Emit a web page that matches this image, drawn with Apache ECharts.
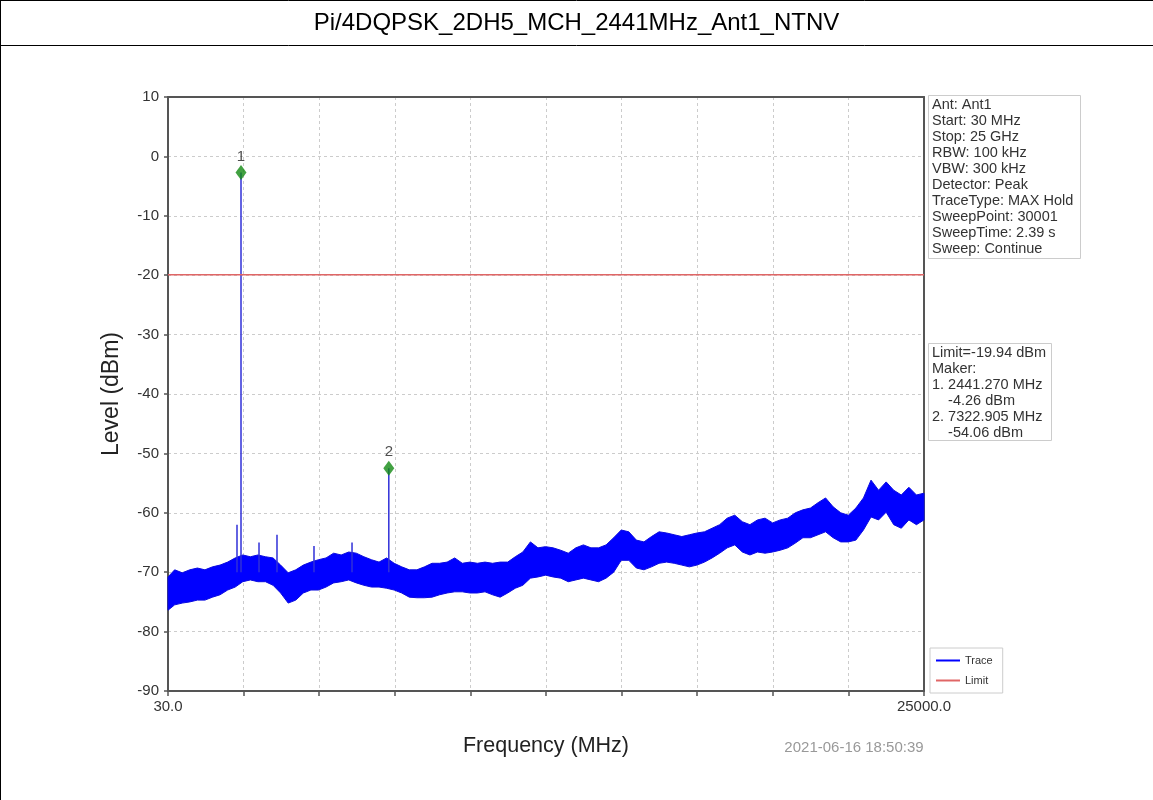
<!DOCTYPE html>
<html>
<head>
<meta charset="utf-8">
<script src="https://cdn.jsdelivr.net/npm/echarts@6/dist/echarts.min.js"></script>
<style>
html,body{margin:0;padding:0;background:#fff;}
#chart{width:1153px;height:800px;}
</style>
</head>
<body>
<div id="chart"></div>
<script>
// ---------- data ----------
const titleText = 'Pi/4DQPSK_2DH5_MCH_2441MHz_Ant1_NTNV';
const freqStart = 30;
const freqStop = 25000;
const freqMHz = [30,250,500,750,1000,1250,1500,1750,2000,2250,2500,2750,3000,3250,3500,3750,4000,4250,4500,4750,
  5000,5250,5500,5750,6000,6250,6500,6750,7000,7250,7500,7750,8000,8250,8500,8750,9000,9250,9500,9750,
  10000,10250,10500,10750,11000,11250,11500,11750,12000,12250,12500,12750,13000,13250,13500,13750,14000,14250,14500,14750,
  15000,15250,15500,15750,16000,16250,16500,16750,17000,17250,17500,17750,18000,18250,18500,18750,19000,19250,19500,19750,
  20000,20250,20500,20750,21000,21250,21500,21750,22000,22250,22500,22750,23000,23250,23500,23750,24000,24250,24500,24750,25000];
const traceUpper = [-70.8,-69.6,-70.1,-69.6,-69.3,-69.6,-69.1,-68.8,-68.3,-67.6,
  -67.1,-67.4,-67.1,-67.4,-67.6,-68.8,-70.1,-69.6,-68.8,-68.3,
  -67.9,-67.6,-66.8,-67.1,-66.6,-66.8,-67.4,-67.9,-68.3,-67.6,
  -68.5,-69.1,-69.6,-69.6,-69.1,-68.5,-68.5,-68.3,-67.6,-68.5,
  -68.3,-68.5,-68.3,-68.5,-68.3,-68.3,-67.4,-66.6,-64.9,-65.9,
  -65.7,-65.9,-66.3,-66.8,-65.9,-65.4,-65.9,-65.9,-65.4,-64.2,
  -62.9,-63.2,-64.6,-64.9,-64.0,-63.2,-63.4,-63.7,-64.0,-63.7,
  -63.4,-63.2,-62.6,-62.0,-60.9,-60.4,-61.5,-62.0,-61.2,-60.9,
  -61.7,-61.2,-60.9,-60.0,-59.5,-59.2,-58.3,-57.5,-59.0,-60.0,
  -60.4,-59.2,-57.5,-54.5,-56.2,-54.8,-56.2,-57.0,-55.7,-57.0,-56.7];
const traceLower = [-76.4,-75.5,-75.2,-75.0,-74.7,-74.7,-74.2,-73.8,-73.0,-72.5,
  -71.6,-71.3,-71.6,-71.6,-72.2,-73.5,-75.2,-74.7,-73.5,-73.0,
  -73.0,-72.5,-71.8,-71.6,-71.3,-71.8,-72.2,-72.5,-72.5,-72.7,
  -73.0,-73.5,-74.2,-74.3,-74.3,-74.2,-73.8,-73.5,-73.3,-73.3,
  -73.5,-73.5,-73.3,-73.8,-74.2,-73.5,-72.7,-72.2,-71.0,-70.8,
  -70.5,-70.8,-71.0,-71.6,-71.3,-71.0,-71.3,-71.6,-71.0,-70.0,
  -68.0,-68.0,-69.3,-69.6,-69.1,-68.5,-68.3,-68.5,-68.8,-69.1,
  -68.8,-68.3,-67.6,-66.8,-65.9,-65.4,-66.6,-67.1,-66.6,-66.8,
  -66.6,-66.3,-65.9,-65.1,-64.2,-64.2,-63.7,-63.2,-64.2,-64.9,
  -64.9,-64.6,-62.9,-60.7,-61.2,-59.9,-62.0,-62.6,-61.2,-62.0,-61.2];
const spurFreq = [2309, 2441.27, 3036, 3630, 4852, 6108, 7322.905];
const spurTop = [-62.0, -2.7, -65.0, -63.7, -65.6, -65.0, -52.5];
const spurBase = [-70.0, -70.0, -70.0, -70.0, -70.0, -70.0, -70.0];
const markerNames = ['1', '2'];
const markerFreq = [2441.27, 7322.905];
const markerLevel = [-2.7, -52.5];
const limitLevel = -19.94;
const yMin = -90, yMax = 10, yStep = 10;
const xDivisions = 10;
const infoLines = ['Ant: Ant1','Start: 30 MHz','Stop: 25 GHz','RBW: 100 kHz','VBW: 300 kHz','Detector: Peak',
  'TraceType: MAX Hold','SweepPoint: 30001','SweepTime: 2.39 s','Sweep: Continue'];
const markerInfoLines = ['Limit=-19.94 dBm','Maker:','1. 2441.270 MHz','    -4.26 dBm','2. 7322.905 MHz','    -54.06 dBm'];
const timestamp = '2021-06-16 18:50:39';

// ---------- build ----------
const span = freqStop - freqStart;           // axis runs in offset units (f - 30)
const xStep = span / xDivisions;
const off = f => f - freqStart;

const chart = echarts.init(document.getElementById('chart'), null, {renderer: 'canvas'});
const FONT = '"Liberation Sans", Arial, Helvetica, sans-serif';
const frameAxisLine = {show: true, onZero: false, lineStyle: {color: '#555', width: 2}};

const option = {
  animation: false,
  backgroundColor: '#ffffff',
  textStyle: {fontFamily: FONT},
  grid: {left: 168, top: 97, width: 756, height: 594},
  legend: {
    orient: 'vertical', left: 930, top: 648,
    data: [{name: 'Trace', icon: 'rect'}, {name: 'Limit', icon: 'rect'}],
    itemWidth: 24, itemHeight: 2, itemGap: 9,
    padding: [7, 10, 7, 6],
    backgroundColor: '#fff', borderColor: '#ccc', borderWidth: 1,
    textStyle: {fontSize: 11, color: '#333', fontFamily: FONT}
  },
  xAxis: [{
    type: 'value', min: 0, max: span, interval: xStep,
    name: 'Frequency (MHz)', nameLocation: 'middle', nameGap: 44,
    nameTextStyle: {fontSize: 21.5, color: '#222', fontFamily: FONT},
    axisLine: frameAxisLine,
    axisTick: {show: true, length: 5, lineStyle: {color: '#555', width: 1.5}},
    splitLine: {show: true, lineStyle: {color: '#cccccc', type: [3, 3], width: 1}},
    axisLabel: {
      fontSize: 15, color: '#333', margin: 8, showMinLabel: true, showMaxLabel: true, hideOverlap: false,
      formatter: v => (Math.abs(v) < 1e-6 ? freqStart.toFixed(1) : (Math.abs(v - span) < 1e-6 ? freqStop.toFixed(1) : ''))
    }
  }, {
    type: 'value', position: 'top', min: 0, max: span, interval: xStep,
    axisLine: frameAxisLine, axisTick: {show: false}, axisLabel: {show: false}, splitLine: {show: false}
  }],
  yAxis: [{
    type: 'value', min: yMin, max: yMax, interval: yStep,
    name: 'Level (dBm)', nameLocation: 'middle', nameGap: 45,
    nameTextStyle: {fontSize: 23, color: '#222', fontFamily: FONT},
    axisLine: frameAxisLine,
    axisTick: {show: true, length: 4, lineStyle: {color: '#555', width: 1.5}},
    splitLine: {show: true, lineStyle: {color: '#cccccc', type: [3, 3], width: 1}},
    axisLabel: {fontSize: 15, color: '#333', margin: 9}
  }, {
    type: 'value', position: 'right', min: yMin, max: yMax, interval: yStep,
    axisLine: frameAxisLine, axisTick: {show: false}, axisLabel: {show: false}, splitLine: {show: false}
  }],
  series: [
    {
      name: 'Trace', type: 'custom', z: 2,
      itemStyle: {color: '#0000ff'},
      data: [[off(freqMHz[0]), traceUpper[0]]],
      renderItem: function (params, api) {
        const pts = [];
        for (let i = 0; i < freqMHz.length; i++) pts.push(api.coord([off(freqMHz[i]), traceUpper[i]]));
        for (let i = freqMHz.length - 1; i >= 0; i--) pts.push(api.coord([off(freqMHz[i]), traceLower[i]]));
        return {type: 'polygon', shape: {points: pts}, style: {fill: '#0000ff', stroke: '#0a0ae0', lineWidth: 1}};
      }
    },
    {
      name: 'Spurs', type: 'custom', z: 3,
      data: spurFreq.map((f, i) => [off(f), spurTop[i], spurBase[i]]),
      renderItem: function (params, api) {
        const p1 = api.coord([api.value(0), api.value(2)]);
        const p2 = api.coord([api.value(0), api.value(1)]);
        return {type: 'line', shape: {x1: p1[0], y1: p1[1], x2: p2[0], y2: p2[1]}, style: {stroke: '#3030d8', lineWidth: 1.5}};
      }
    },
    {
      name: 'Limit', type: 'line', z: 4, symbol: 'none',
      itemStyle: {color: '#e06666'},
      lineStyle: {color: '#e06666', width: 1.5},
      data: [[off(freqStart), limitLevel], [off(freqStop), limitLevel]]
    },
    {
      name: 'Markers', type: 'scatter', z: 5,
      symbol: 'diamond', symbolSize: [11, 15],
      itemStyle: {color: '#138a13'},
      label: {show: true, position: 'top', distance: 1, fontSize: 15, color: '#222', fontFamily: FONT,
        formatter: p => markerNames[p.dataIndex]},
      data: markerFreq.map((f, i) => [off(f), markerLevel[i]])
    }
  ],
  graphic: [
    {type: 'line', shape: {x1: 0, y1: 0.5, x2: 1153, y2: 0.5}, style: {stroke: '#000', lineWidth: 1}},
    {type: 'line', shape: {x1: 0, y1: 45.5, x2: 1153, y2: 45.5}, style: {stroke: '#000', lineWidth: 1}},
    {type: 'line', shape: {x1: 0.5, y1: 0, x2: 0.5, y2: 800}, style: {stroke: '#000', lineWidth: 1}},
    {type: 'text', left: 'center', top: 11, style: {text: titleText, fill: '#000', font: '24px ' + FONT}},
    {type: 'rect', shape: {x: 928.5, y: 95.5, width: 152, height: 163}, style: {fill: '#fff', stroke: '#cccccc', lineWidth: 1}, z: 10},
    {type: 'text', x: 932, y: 97, z: 11, style: {text: infoLines.join('\n'), font: '14.5px ' + FONT, fill: '#333', lineHeight: 16}},
    {type: 'rect', shape: {x: 928.5, y: 343.5, width: 123, height: 97}, style: {fill: '#fff', stroke: '#cccccc', lineWidth: 1}, z: 10},
    {type: 'text', x: 932, y: 345, z: 11, style: {text: markerInfoLines.join('\n'), font: '14.5px ' + FONT, fill: '#333', lineHeight: 16}},
    {type: 'text', x: 854, y: 740, z: 11, style: {text: timestamp, font: '15px ' + FONT, fill: '#999', textAlign: 'center'}}
  ]
};
chart.setOption(option);
</script>
</body>
</html>
